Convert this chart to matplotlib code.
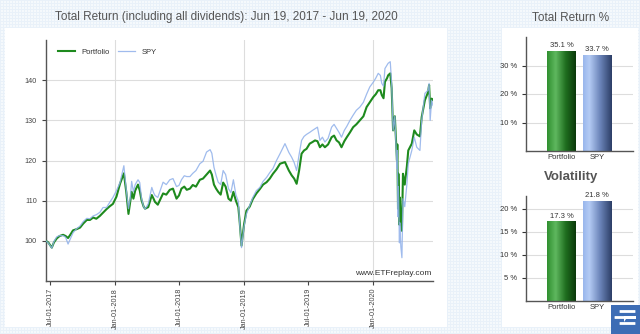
import numpy as np
import pandas as pd
import matplotlib
matplotlib.use("Agg")
import matplotlib.pyplot as plt
import matplotlib.dates as mdates
from matplotlib.colors import LinearSegmentedColormap
from matplotlib.patches import Rectangle, FancyBboxPatch, Polygon

plt.rcParams['font.family'] = ['Liberation Sans', 'DejaVu Sans']

# ---- growth of 100 (total return, dividends reinvested) ----
dates = [
    "2017-06-19", "2017-06-26", "2017-07-06", "2017-07-12", "2017-07-20", "2017-07-28",
    "2017-08-07", "2017-08-14", "2017-08-21", "2017-08-28", "2017-09-04", "2017-09-14",
    "2017-09-24", "2017-10-03", "2017-10-13", "2017-10-22", "2017-10-31", "2017-11-09",
    "2017-11-19", "2017-11-28", "2017-12-08", "2017-12-17", "2017-12-26", "2018-01-05",
    "2018-01-15", "2018-01-26", "2018-02-02", "2018-02-08", "2018-02-13", "2018-02-17",
    "2018-02-22", "2018-02-27", "2018-03-07", "2018-03-12", "2018-03-17", "2018-03-23",
    "2018-03-27", "2018-04-05", "2018-04-15", "2018-04-20", "2018-04-24", "2018-05-02",
    "2018-05-10", "2018-05-17", "2018-05-26", "2018-06-05", "2018-06-14", "2018-06-24",
    "2018-07-01", "2018-07-08", "2018-07-16", "2018-07-23", "2018-08-01", "2018-08-09",
    "2018-08-18", "2018-08-29", "2018-09-07", "2018-09-17", "2018-09-27", "2018-10-02",
    "2018-10-08", "2018-10-14", "2018-10-20", "2018-10-27", "2018-11-03", "2018-11-10",
    "2018-11-18", "2018-11-25", "2018-12-02", "2018-12-09", "2018-12-16", "2018-12-20",
    "2018-12-25", "2019-01-01", "2019-01-08", "2019-01-17", "2019-01-26", "2019-02-05",
    "2019-02-15", "2019-02-24", "2019-03-06", "2019-03-15", "2019-03-24", "2019-04-03",
    "2019-04-13", "2019-04-27", "2019-05-08", "2019-05-16", "2019-05-23", "2019-05-30",
    "2019-06-06", "2019-06-13", "2019-06-20", "2019-06-27", "2019-07-06", "2019-07-14",
    "2019-07-21", "2019-07-28", "2019-08-04", "2019-08-11", "2019-08-18", "2019-08-27",
    "2019-09-06", "2019-09-13", "2019-09-20", "2019-09-27", "2019-10-04", "2019-10-12",
    "2019-10-19", "2019-10-28", "2019-11-06", "2019-11-15", "2019-11-25", "2019-12-05",
    "2019-12-14", "2019-12-23", "2020-01-02", "2020-01-09", "2020-01-16", "2020-01-22",
    "2020-01-26", "2020-01-31", "2020-02-04", "2020-02-10", "2020-02-13", "2020-02-19",
    "2020-02-23", "2020-02-27", "2020-03-03", "2020-03-09", "2020-03-10", "2020-03-12",
    "2020-03-13", "2020-03-16", "2020-03-17", "2020-03-20", "2020-03-23", "2020-03-26",
    "2020-03-31", "2020-04-06", "2020-04-10", "2020-04-20", "2020-04-27", "2020-05-04",
    "2020-05-13", "2020-05-18", "2020-05-27", "2020-06-05", "2020-06-08", "2020-06-11",
    "2020-06-15", "2020-06-19",
]

portfolio = [
    100.0, 99.6, 98.3, 99.6, 100.6, 101.2,
    101.5, 101.2, 100.7, 101.6, 102.6, 102.9,
    103.3, 104.3, 105.2, 105.2, 105.8, 105.5,
    106.2, 107.0, 107.9, 108.6, 109.2, 111.0,
    114.2, 116.8, 112.0, 106.7, 109.8, 112.2,
    110.5, 112.5, 114.0, 112.5, 110.1, 108.5,
    108.0, 108.4, 111.4, 110.5, 109.7, 109.0,
    110.5, 111.8, 111.5, 112.7, 113.0, 110.5,
    111.3, 113.0, 113.5, 112.7, 113.0, 113.9,
    113.5, 115.2, 115.5, 116.5, 117.5, 116.5,
    114.0, 113.0, 112.2, 111.5, 114.5, 113.5,
    110.5, 110.0, 112.2, 110.0, 108.4, 104.5,
    98.8, 104.0, 107.5, 108.5, 110.4, 111.8,
    112.9, 114.0, 114.6, 115.5, 116.7, 117.8,
    119.2, 119.6, 117.5, 116.3, 115.5, 114.2,
    117.5, 121.7, 122.5, 122.9, 124.2, 124.6,
    125.0, 124.8, 123.3, 124.0, 123.3, 124.0,
    125.8, 126.2, 125.0, 124.5, 123.3, 124.8,
    125.8, 127.0, 128.3, 129.0, 130.0, 131.0,
    133.3, 134.5, 135.8, 136.5, 137.5, 137.5,
    136.3, 135.5, 139.6, 140.5, 141.2, 141.7,
    138.0, 127.5, 131.0, 120.0, 124.0, 108.0,
    116.7, 104.0, 110.8, 104.5, 102.5, 116.7,
    114.0, 118.5, 122.5, 124.2, 127.5, 126.5,
    126.0, 130.8, 135.0, 137.0, 138.8, 133.0,
    135.4, 135.1,
]

spy = [
    100.0, 99.5, 98.2, 99.8, 101.0, 101.3,
    101.3, 100.9, 99.2, 100.6, 102.0, 103.0,
    103.7, 104.8, 105.6, 105.5, 106.2, 106.5,
    107.1, 108.3, 108.3, 109.6, 110.8, 112.5,
    114.5, 118.7, 112.5, 108.0, 110.5, 114.8,
    112.2, 114.0, 115.2, 114.5, 110.5, 108.5,
    107.9, 109.2, 113.3, 112.0, 111.3, 110.8,
    112.8, 114.6, 114.0, 115.2, 115.5, 113.5,
    113.8, 115.2, 116.2, 116.0, 116.0, 116.8,
    117.5, 119.2, 119.8, 122.1, 122.7, 121.8,
    118.3, 116.3, 114.6, 114.0, 117.5, 116.5,
    113.0, 112.0, 115.2, 111.5, 109.8, 104.0,
    98.3, 103.5, 106.7, 108.8, 110.8, 112.5,
    113.3, 114.8, 115.8, 117.0, 118.0, 120.0,
    121.7, 124.2, 122.0, 120.8, 119.5, 117.5,
    121.5, 125.0, 126.0, 126.5, 127.0, 127.5,
    127.9, 128.3, 125.0, 125.8, 124.6, 125.5,
    128.3, 129.0, 128.0, 127.0, 125.8, 127.5,
    128.5, 130.0, 131.3, 132.5, 133.3, 134.5,
    136.5, 138.3, 139.5, 140.5, 141.7, 141.2,
    139.2, 138.5, 142.9, 143.8, 144.2, 144.6,
    139.2, 127.5, 131.0, 118.0, 122.5, 106.0,
    113.5, 99.5, 104.5, 98.5, 95.8, 110.5,
    108.5, 114.0, 119.2, 122.5, 125.8, 123.3,
    122.5, 130.0, 136.7, 137.5, 139.2, 130.0,
    135.0, 133.7,
]

series_names = ["Portfolio", "SPY"]
total_return = [35.1, 33.7]
volatility = [17.3, 21.8]

title_main = "Total Return (including all dividends): Jun 19, 2017 - Jun 19, 2020"

# ---- figure ----
W, H = 640, 334
fig = plt.figure(figsize=(W / 100, H / 100), dpi=100)

# pale blue graph-paper background
bg = np.ones((H, W, 3)) * np.array([0.962, 0.978, 0.992])
line_col = np.array([0.915, 0.948, 0.978])
bg[::3, :, :] = line_col
bg[:, ::3, :] = line_col
bgax = fig.add_axes([0, 0, 1, 1], zorder=-10)
bgax.imshow(bg, extent=[0, W, H, 0], aspect='auto', interpolation='nearest')
bgax.set_xlim(0, W)
bgax.set_ylim(H, 0)
bgax.axis('off')
# white panels
bgax.add_patch(Rectangle((5, 28), 442, 299, facecolor='white', edgecolor='none'))
bgax.add_patch(Rectangle((502, 28), 136, 299, facecolor='white', edgecolor='none'))

def fx(x):
    return x / W

def fy(y):
    return 1 - y / H

# ---- main line chart ----
ax = fig.add_axes([fx(45.8), fy(281), fx(433) - fx(45.8), fy(40) - fy(281)])
d = pd.to_datetime(dates)
ax.plot(d, portfolio, color='#1e8a1e', lw=1.5, label=series_names[0], zorder=3)
ax.plot(d, spy, color='#8fb0ea', lw=0.9, alpha=0.85, label=series_names[1], zorder=4)
ax.set_xlim(d[0], d[-1])
ax.set_ylim(90, 150)
ax.set_yticks([100, 110, 120, 130, 140])
ticks = pd.to_datetime(["2017-07-01", "2018-01-01", "2018-07-01", "2019-01-01",
                        "2019-07-01", "2020-01-01"])
ax.set_xticks(ticks)
ax.xaxis.set_major_formatter(mdates.DateFormatter('%b-%d-%Y'))
for lbl in ax.get_xticklabels():
    lbl.set_rotation(90)
ax.tick_params(axis='both', labelsize=5.2, colors='#444444', length=3, width=0.8)
ax.tick_params(axis='x', pad=2)
ax.grid(axis='y', color='#dddddd', lw=0.8)
for t in pd.to_datetime(["2018-01-01", "2019-01-01", "2020-01-01"]):
    ax.axvline(t, color='#dddddd', lw=0.8, zorder=0)
for s in ['top', 'right']:
    ax.spines[s].set_visible(False)
for s in ['left', 'bottom']:
    ax.spines[s].set_color('#555555')
    ax.spines[s].set_linewidth(1.0)
ax.set_axisbelow(True)
leg = ax.legend(loc='upper left', ncol=2, frameon=False, fontsize=5.5,
                handlelength=2.2, columnspacing=1.2, bbox_to_anchor=(0.02, 0.985),
                borderaxespad=0.2)
for t in leg.get_texts():
    t.set_color('#333333')
ax.text(0.995, 0.018, "www.ETFreplay.com", transform=ax.transAxes, ha='right',
        va='bottom', fontsize=6, color='#333333')

fig.text(fx(226), fy(17), title_main, ha='center', va='center', fontsize=8.5,
         color='#555555')

# ---- gradient bar panels ----
green_cm = LinearSegmentedColormap.from_list(
    'g', [(0, '#2f8f2f'), (0.3, '#5fb85f'), (0.65, '#1f6e1f'), (1, '#0a380a')])
blue_cm = LinearSegmentedColormap.from_list(
    'b', [(0, '#98b6ec'), (0.22, '#b4cbf4'), (0.6, '#6a83b8'), (1, '#2c3e66')])

def bar_panel(rect, values, ylim, yticks, title, title_y, title_kw):
    bax = fig.add_axes(rect)
    xs = np.arange(len(values))
    bars = bax.bar(xs, values, width=0.8, color='none', edgecolor='none', zorder=2)
    grad = np.linspace(0, 1, 256).reshape(1, -1)
    for b, cm, v, x in zip(bars, [green_cm, blue_cm], values, xs):
        im = bax.imshow(grad, extent=[x - 0.4, x + 0.4, 0, v], aspect='auto',
                        cmap=cm, zorder=2, interpolation='bilinear')
        im.set_clip_path(b)
        bax.text(x, v + (ylim[1] * 0.015), f"{v:.1f} %", ha='center', va='bottom',
                 fontsize=5.5, color='#333333')
    bax.set_xlim(-1, 2)
    bax.set_ylim(*ylim)
    bax.set_yticks(yticks)
    bax.set_yticklabels([f"{t} %" for t in yticks])
    bax.set_xticks(xs)
    bax.set_xticklabels(series_names)
    bax.tick_params(axis='y', labelsize=5.5, colors='#333333', length=3, width=0.8)
    bax.tick_params(axis='x', labelsize=5.5, colors='#333333', length=0, pad=2)
    bax.grid(axis='y', color='#dddddd', lw=0.8)
    bax.set_axisbelow(True)
    for s in ['top', 'right']:
        bax.spines[s].set_visible(False)
    for s in ['left', 'bottom']:
        bax.spines[s].set_color('#555555')
        bax.spines[s].set_linewidth(1.0)
    bax.patch.set_alpha(0)
    fig.text(fx(571), fy(title_y), title, ha='center', va='center', **title_kw)
    return bax

bar_panel([fx(526), fy(151), fx(107), fy(37) - fy(151)], total_return, (0, 40),
          [10, 20, 30], "Total Return %", 18,
          dict(fontsize=8.5, color='#555555'))
bar_panel([fx(526), fy(301), fx(107), fy(196) - fy(301)], volatility, (0, 22.8),
          [5, 10, 15, 20], "Volatility", 177,
          dict(fontsize=9.5, color='#555555', fontweight='bold'))

# ---- site logo ----
bgax.add_patch(Rectangle((611, 305), 29, 29, facecolor='#3d6db5', edgecolor='none'))
white = dict(facecolor='white', edgecolor='none')
bgax.add_patch(FancyBboxPatch((620, 310.5), 15, 2.0, boxstyle='round,pad=0.4', **white))
bgax.add_patch(FancyBboxPatch((615, 316.5), 9, 2.0, boxstyle='round,pad=0.4', **white))
bgax.add_patch(Polygon([(624, 316), (636, 316), (636, 319), (626, 319), (624, 322)],
                       closed=True, **white))
bgax.add_patch(FancyBboxPatch((620, 322.5), 15, 2.0, boxstyle='round,pad=0.4', **white))

fig.savefig("out.png", dpi=100)
